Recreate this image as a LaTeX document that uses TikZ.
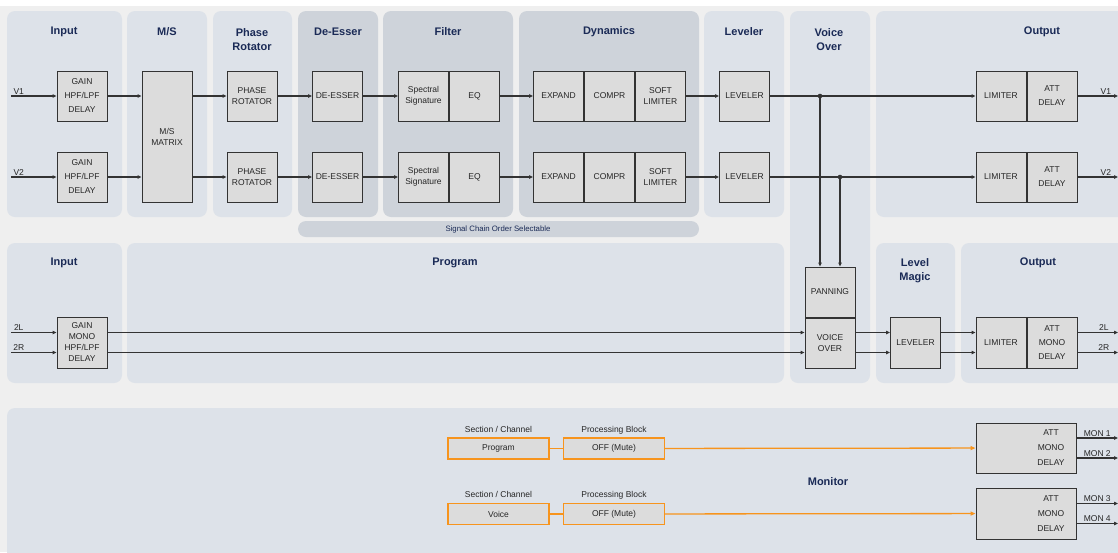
\documentclass[tikz,border=0pt]{standalone}
\usepackage{fontspec}
\setmainfont{Liberation Sans}
\usetikzlibrary{positioning, arrows.meta}
\definecolor{pagebg}{RGB}{239,239,239}
\definecolor{panel}{RGB}{221,226,233}
\definecolor{paneldark}{RGB}{206,211,218}
\definecolor{boxfill}{RGB}{220,220,220}
\definecolor{headblue}{RGB}{26,42,86}
\definecolor{monorange}{RGB}{247,148,29}

\tikzset{
  pnl/.style={fill=panel, rounded corners=8pt},
  pnldark/.style={fill=paneldark, rounded corners=8pt},
  hdr/.style={text=headblue, font=\bfseries\fontsize{11}{14.5}\selectfont, align=center, inner sep=0pt},
  blk/.style={draw=black!80, line width=1pt, fill=boxfill, minimum width=50pt, minimum height=50pt,
    inner sep=0pt, align=center, text=black!85, font=\fontsize{8.5}{11}\selectfont},
  sig/.style={draw=black!80, line width=1.1pt, -{Triangle[length=4pt,width=3.4pt]}},
  wire/.style={draw=black!80, line width=1.1pt},
  lbl/.style={font=\fontsize{8.5}{10}\selectfont, text=black!85, inner sep=1pt},
  caplbl/.style={lbl, text height=6.5pt, text depth=2pt},
  obox/.style={draw=monorange, line width=1.1pt, fill=boxfill, minimum width=101pt, minimum height=21pt,
    inner sep=0pt, text=black!85, font=\fontsize{8.5}{10}\selectfont},
  owire/.style={draw=monorange, line width=1.3pt},
}

\begin{document}
\begin{tikzpicture}[x=1pt, y=-1pt]
    \useasboundingbox (0,0) rectangle (1118,552);
    \fill[white] (0,0) rectangle (1118,552);
    \fill[pagebg] (0,6) rectangle (1118,552); % page background

    % Panels of the top row
    \fill[pnl] (7,11) rectangle (122,217); % input
    \fill[pnl] (127,11) rectangle (207,217); % m/s
    \fill[pnl] (213,11) rectangle (292,217); % phase rotator
    \fill[pnldark] (298,221) rectangle (699,237); % selectable bar
    \fill[pnldark] (298,11) rectangle (378,217); % de-esser
    \fill[pnldark] (383,11) rectangle (513,217); % filter
    \fill[pnldark] (519,11) rectangle (699,217); % dynamics
    \fill[pnl] (704,11) rectangle (784,217); % leveler
    \fill[pnl] (790,11) rectangle (870,383); % voice over
    \fill[pnl] (876,11) rectangle (1130,217); % output

    % Panels of the middle row
    \fill[pnl] (7,243) rectangle (122,383); % input
    \fill[pnl] (127,243) rectangle (784,383); % program
    \fill[pnl] (876,243) rectangle (955,383); % level magic
    \fill[pnl] (961,243) rectangle (1130,383); % output

    % Monitor panel
    \fill[pnl] (7,408) rectangle (1130,570);

    % Section titles
    \node[hdr] (hIn) at (64,32) {Input};
    \node[hdr] (hMS) at (167,32) {M/S};
    \node[hdr] (hPhr) at (252,39.5) {Phase\\Rotator};
    \node[hdr] (hDes) at (338,32) {De-Esser};
    \node[hdr] (hFil) at (448,32) {Filter};
    \node[hdr] (hDyn) at (609,32) {Dynamics};
    \node[hdr] (hLev) at (744,32) {Leveler};
    \node[hdr] (hVo) at (829,39.5) {Voice\\Over};
    \node[hdr] (hOut) at (1042,32) {Output};
    \node[hdr] (hIn2) at (64,263) {Input};
    \node[hdr] (hProg) at (455,263) {Program};
    \node[hdr] (hLm) at (915,270.5) {Level\\Magic};
    \node[hdr] (hOut2) at (1038,263) {Output};
    \node[hdr] (hMon) at (828,482) {Monitor};
    \node[lbl, text=headblue, font=\fontsize{7.8}{9}\selectfont] (hSel) at (498,229) {Signal Chain Order Selectable};

    % Voice chain, V1 and V2
    \node[blk] (gain1) at (82,96) {GAIN\\[3pt]HPF/LPF\\[3pt]DELAY};
    \node[blk] (gain2) at (82,177) {GAIN\\[3pt]HPF/LPF\\[3pt]DELAY};
    \node[blk, minimum height=131pt] (msm) at (167,136.5) {M/S\\MATRIX};
    \node[blk] (phr1) at (252,96) {PHASE\\ROTATOR};
    \node[blk] (phr2) at (252,177) {PHASE\\ROTATOR};
    \node[blk] (des1) at (337.5,96) {DE-ESSER};
    \node[blk] (des2) at (337.5,177) {DE-ESSER};
    \node[blk] (spec1) at (423.5,96) {Spectral\\Signature};
    \node[blk, right=0pt of spec1] (eq1) {EQ};
    \node[blk] (spec2) at (423.5,177) {Spectral\\Signature};
    \node[blk, right=0pt of spec2] (eq2) {EQ};
    \node[blk] (exp1) at (558.5,96) {EXPAND};
    \node[blk, right=0pt of exp1] (cmp1) {COMPR};
    \node[blk, right=0pt of cmp1] (slim1) {SOFT\\LIMITER};
    \node[blk] (exp2) at (558.5,177) {EXPAND};
    \node[blk, right=0pt of exp2] (cmp2) {COMPR};
    \node[blk, right=0pt of cmp2] (slim2) {SOFT\\LIMITER};
    \node[blk] (lev1) at (744.5,96) {LEVELER};
    \node[blk] (lev2) at (744.5,177) {LEVELER};
    \node[blk] (lim1) at (1001,96) {LIMITER};
    \node[blk, right=0pt of lim1] (att1) {ATT\\[3pt]DELAY};
    \node[blk] (lim2) at (1001,177) {LIMITER};
    \node[blk, right=0pt of lim2] (att2) {ATT\\[3pt]DELAY};

    % Program chain, 2L and 2R
    \node[blk, minimum height=51pt] (gmono) at (82,342.5) {GAIN\\MONO\\HPF/LPF\\DELAY};
    \node[blk] (pan) at (830,292) {PANNING};
    \node[blk, below=0pt of pan] (vo) {VOICE\\OVER};
    \node[blk, minimum height=51pt] (lm) at (915.5,342.5) {LEVELER};
    \node[blk, minimum height=51pt] (lim3) at (1001,342.5) {LIMITER};
    \node[blk, minimum height=51pt, right=0pt of lim3] (att3) {ATT\\[3pt]MONO\\[3pt]DELAY};

    % Monitor selection
    \node[obox] (sel1) at (498.5,448.5) {Program};
    \node[obox] (off1) at (614,448.5) {OFF (Mute)};
    \node[obox] (sel2) at (498.5,514) {Voice};
    \node[obox] (off2) at (614,514) {OFF (Mute)};
    \node[caplbl, above=2pt of sel1] (tSec1) {Section / Channel};
    \node[caplbl, above=2pt of off1] (tPro1) {Processing Block};
    \node[caplbl, above=2pt of sel2] (tSec2) {Section / Channel};
    \node[caplbl, above=2pt of off2] (tPro2) {Processing Block};
    \node[blk, minimum width=100pt] (mon1) at (1026,448) {};
    \node[lbl, align=center, font=\fontsize{8.5}{12}\selectfont] (mon1t) at (1051,448) {ATT\\[3pt]MONO\\[3pt]DELAY};
    \node[blk, minimum width=100pt, minimum height=51pt] (mon2) at (1026,513.5) {};
    \node[lbl, align=center, font=\fontsize{8.5}{12}\selectfont] (mon2t) at (1051,513.5) {ATT\\[3pt]MONO\\[3pt]DELAY};

    % Free ends at the page edges
    \coordinate (v1in) at (11,96);
    \coordinate (v2in) at (11,177);
    \coordinate (lin) at (11,332.5);
    \coordinate (rin) at (11,352.5);
    \coordinate (v1out) at (1118,96);
    \coordinate (v2out) at (1118,177);
    \coordinate (lout) at (1118,332.5);
    \coordinate (rout) at (1118,352.5);
    \coordinate (m1out) at (1118,438);
    \coordinate (m2out) at (1118,458);
    \coordinate (m3out) at (1118,503.5);
    \coordinate (m4out) at (1118,523.5);
    \coordinate (j1) at (820,96); % tap of V1
    \coordinate (j2) at (840,177); % tap of V2

    % Voice signal flow
    \draw[sig] (v1in) -- node[lbl, pos=0.17, above] {V1} (gain1);
    \draw[sig] (v2in) -- node[lbl, pos=0.17, above] {V2} (gain2);
    \draw[sig] (gain1) -- (gain1 -| msm.west);
    \draw[sig] (gain2) -- (gain2 -| msm.west);
    \draw[sig] (phr1 -| msm.east) -- (phr1);
    \draw[sig] (phr2 -| msm.east) -- (phr2);
    \draw[sig] (phr1) -- (des1);
    \draw[sig] (phr2) -- (des2);
    \draw[sig] (des1) -- (spec1);
    \draw[sig] (des2) -- (spec2);
    \draw[sig] (eq1) -- (exp1);
    \draw[sig] (eq2) -- (exp2);
    \draw[sig] (slim1) -- (lev1);
    \draw[sig] (slim2) -- (lev2);
    \draw[sig] (lev1) -- (lim1);
    \draw[sig] (lev2) -- (lim2);
    \fill[black!80] (j1) circle (2.3pt);
    \fill[black!80] (j2) circle (2.3pt);
    \draw[sig] (j1) -- (j1 |- pan.north);
    \draw[sig] (j2) -- (j2 |- pan.north);
    \draw[sig] (att1) -- node[lbl, pos=0.7, above] {V1} (v1out);
    \draw[sig] (att2) -- node[lbl, pos=0.7, above] {V2} (v2out);

    % Program signal flow
    \draw[sig] (lin) -- node[lbl, pos=0.17, above] {2L} (lin -| gmono.west);
    \draw[sig] (rin) -- node[lbl, pos=0.17, above] {2R} (rin -| gmono.west);
    \draw[sig] (lin -| gmono.east) -- (lin -| vo.west);
    \draw[sig] (rin -| gmono.east) -- (rin -| vo.west);
    \draw[sig] (lin -| vo.east) -- (lin -| lm.west);
    \draw[sig] (rin -| vo.east) -- (rin -| lm.west);
    \draw[sig] (lin -| lm.east) -- (lin -| lim3.west);
    \draw[sig] (rin -| lm.east) -- (rin -| lim3.west);
    \draw[sig] (lin -| att3.east) -- node[lbl, pos=0.65, above] {2L} (lout);
    \draw[sig] (rin -| att3.east) -- node[lbl, pos=0.65, above] {2R} (rout);

    % Monitor signal flow
    \draw[owire] (sel1) -- (off1);
    \draw[owire] (sel2) -- (off2);
    \draw[owire, -{Triangle[length=5pt,width=4pt]}] (off1) -- (mon1);
    \draw[owire, -{Triangle[length=5pt,width=4pt]}] (off2) -- (mon2);
    \draw[sig] (m1out -| mon1.east) -- node[lbl, pos=0.5, above] {MON 1} (m1out);
    \draw[sig] (m2out -| mon1.east) -- node[lbl, pos=0.5, above] {MON 2} (m2out);
    \draw[sig] (m3out -| mon2.east) -- node[lbl, pos=0.5, above] {MON 3} (m3out);
    \draw[sig] (m4out -| mon2.east) -- node[lbl, pos=0.5, above] {MON 4} (m4out);
\end{tikzpicture}
\end{document}
